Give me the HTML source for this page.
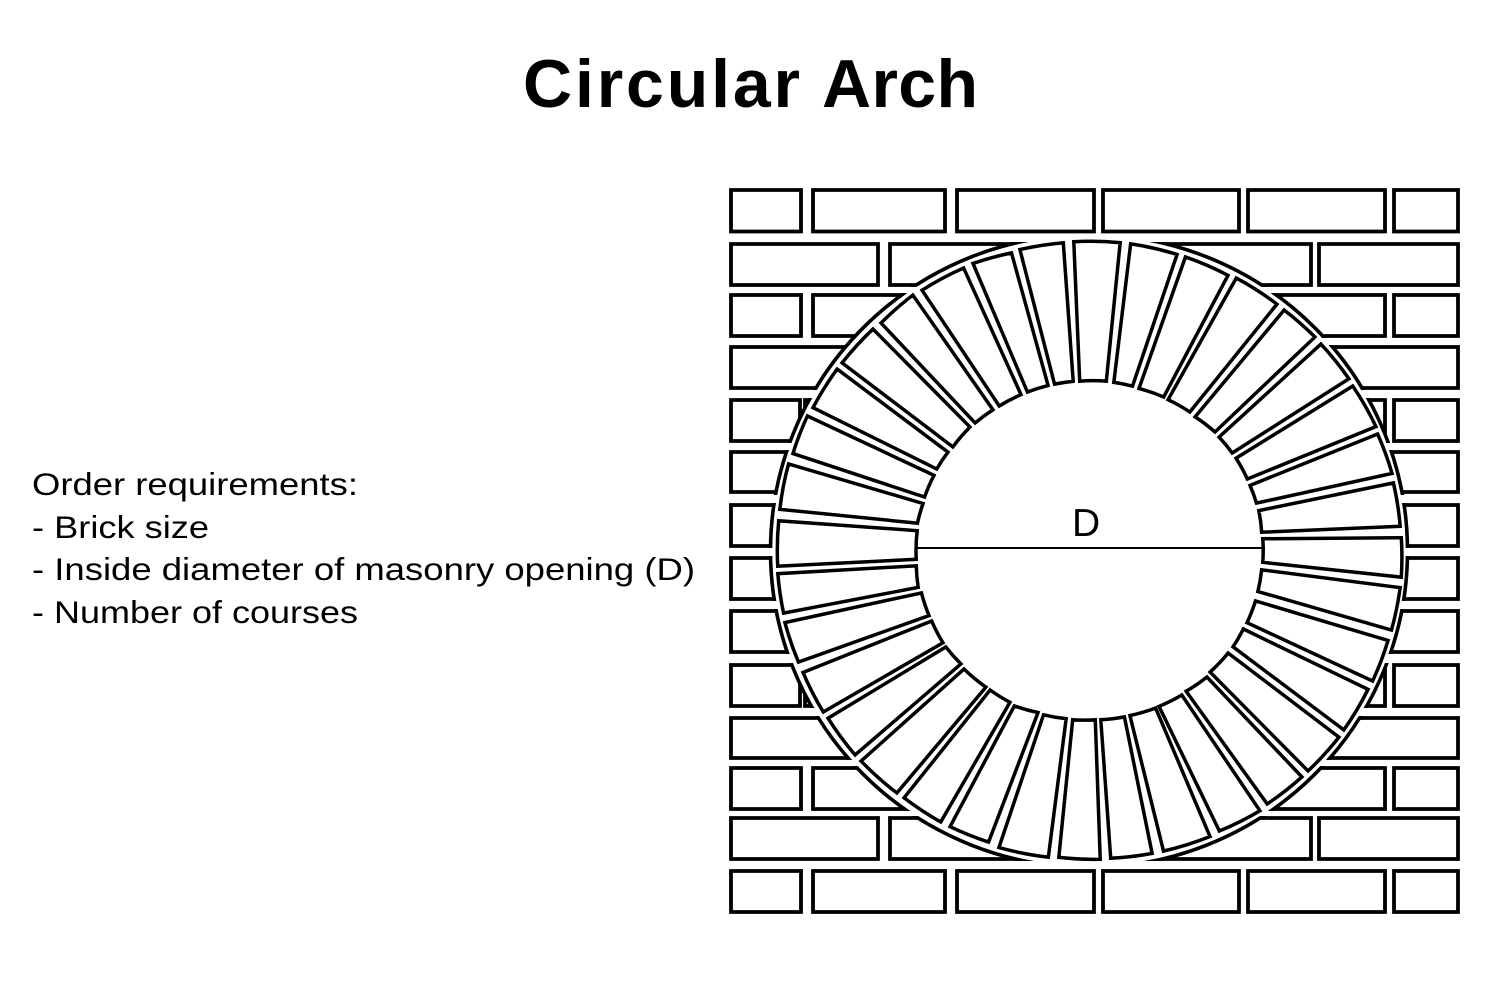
<!DOCTYPE html>
<html><head><meta charset="utf-8"><style>html,body{margin:0;padding:0;background:#fff}svg{display:block}text{font-family:"Liberation Sans",sans-serif;fill:#000}</style></head><body>
<svg xmlns="http://www.w3.org/2000/svg" width="1500" height="1001" viewBox="0 0 1500 1001">
<defs>
<clipPath id="b"><path d="M729 242H1460V287H729ZM729 287H900V293H729ZM729 293H1460V338H729ZM729 338H860V345H729ZM729 345H1460V390H729ZM729 398H1460V443H729ZM729 450H1460V495H729ZM729 503H1460V548H729ZM729 556H1460V601H729ZM729 609H1460V654H729ZM729 663H1460V708H729ZM729 716H1460V760H729ZM729 766H1460V811H729ZM729 816H1460V861H729Z"/></clipPath>
<path id="vp" d="M777 567L917 560A172 172 0 0 1 918 530L778 520A312 312 0 0 0 777 567Z
M779 510L918 524A172 172 0 0 1 924 503L788 463A312 312 0 0 0 779 510Z
M792 454L925 498A172 172 0 0 1 935 475L807 415A312 312 0 0 0 792 454Z
M812 408L937 470A172 172 0 0 1 949 452L837 368A312 312 0 0 0 812 408Z
M841 363L953 448A172 172 0 0 1 971 427L873 328A312 312 0 0 0 841 363Z
M880 323L975 424A172 172 0 0 1 994 410L913 294A312 312 0 0 0 880 323Z
M921 290L999 407A172 172 0 0 1 1022 395L964 267A312 312 0 0 0 921 290Z
M972 263L1027 393A172 172 0 0 1 1049 386L1012 252A312 312 0 0 0 972 263Z
M1019 249L1054 385A172 172 0 0 1 1074 382L1064 242A312 312 0 0 0 1019 249Z
M1073 241L1079 382A172 172 0 0 1 1107 382L1121 242A312 312 0 0 0 1073 241Z
M1130 243L1113 383A172 172 0 0 1 1133 387L1178 254A312 312 0 0 0 1130 243Z
M1185 256L1138 389A172 172 0 0 1 1164 398L1229 275A312 312 0 0 0 1185 256Z
M1236 277L1167 400A172 172 0 0 1 1190 413L1278 304A312 312 0 0 0 1236 277Z
M1284 309L1194 417A172 172 0 0 1 1215 433L1316 337A312 312 0 0 0 1284 309Z
M1321 343L1218 437A172 172 0 0 1 1232 454L1350 379A312 312 0 0 0 1321 343Z
M1353 385L1235 458A172 172 0 0 1 1247 480L1377 427A312 312 0 0 0 1353 385Z
M1378 433L1249 485A172 172 0 0 1 1256 504L1393 474A312 312 0 0 0 1378 433Z
M1394 482L1258 510A172 172 0 0 1 1261 533L1401 527A312 312 0 0 0 1394 482Z
M1402 537L1262 538A172 172 0 0 1 1262 563L1402 578A312 312 0 0 0 1402 537Z
M1401 587L1261 569A172 172 0 0 1 1257 592L1392 631A312 312 0 0 0 1401 587Z
M1389 640L1255 600A172 172 0 0 1 1246 623L1373 682A312 312 0 0 0 1389 640Z
M1369 689L1243 628A172 172 0 0 1 1232 647L1344 731A312 312 0 0 0 1369 689Z
M1340 737L1228 652A172 172 0 0 1 1209 672L1308 772A312 312 0 0 0 1340 737Z
M1303 777L1207 676A172 172 0 0 1 1185 691L1267 805A312 312 0 0 0 1303 777Z
M1261 811L1182 694A172 172 0 0 1 1158 706L1219 832A312 312 0 0 0 1261 811Z
M1211 837L1156 707A172 172 0 0 1 1129 715L1163 852A312 312 0 0 0 1211 837Z
M1153 854L1125 716A172 172 0 0 1 1100 719L1110 859A312 312 0 0 0 1153 854Z
M1101 860L1096 719A172 172 0 0 1 1072 719L1058 858A312 312 0 0 0 1101 860Z
M1049 858L1067 718A172 172 0 0 1 1043 714L998 848A312 312 0 0 0 1049 858Z
M989 843L1039 712A172 172 0 0 1 1014 705L949 827A312 312 0 0 0 989 843Z
M941 823L1011 702A172 172 0 0 1 990 689L903 798A312 312 0 0 0 941 823Z
M897 794L987 687A172 172 0 0 1 964 668L860 761A312 312 0 0 0 897 794Z
M855 756L962 664A172 172 0 0 1 946 646L827 718A312 312 0 0 0 855 756Z
M823 713L944 643A172 172 0 0 1 932 620L802 672A312 312 0 0 0 823 713Z
M798 663L930 616A172 172 0 0 1 922 592L784 622A312 312 0 0 0 798 663Z
M783 614L919 588A172 172 0 0 1 917 565L777 573A312 312 0 0 0 783 614Z"/>
<clipPath id="v"><use href="#vp"/></clipPath>
</defs>
<text x="523" y="107" font-size="68" font-weight="700" textLength="277" lengthAdjust="spacing">Circular</text>
<text x="822" y="107" font-size="68" font-weight="700" textLength="156" lengthAdjust="spacing">Arch</text>
<g font-size="31.5">
<text x="32" y="495" textLength="326" lengthAdjust="spacingAndGlyphs">Order requirements:</text>
<text x="32" y="538" textLength="177" lengthAdjust="spacingAndGlyphs">- Brick size</text>
<text x="32" y="580" textLength="663" lengthAdjust="spacingAndGlyphs">- Inside diameter of masonry opening (D)</text>
<text x="32" y="623" textLength="326" lengthAdjust="spacingAndGlyphs">- Number of courses</text>
</g>
<g fill="#fff" stroke="#000" stroke-width="3.8">
<path d="M731 190H801V231.5H731ZM813 190H945V231.5H813ZM957 190H1094V231.5H957ZM1103 190H1239V231.5H1103ZM1248 190H1385V231.5H1248ZM1394 190H1458V231.5H1394Z"/>
<path d="M731 244H878V285H731ZM890 244H1311V285H890ZM1319 244H1458V285H1319Z"/>
<path d="M731 295H801V336H731ZM813 295H1385V336H813ZM1394 295H1458V336H1394Z"/>
<path d="M731 347H1458V388H731Z"/>
<path d="M731 400H800V441H731ZM805 400H1385V441H805ZM1394 400H1458V441H1394Z"/>
<path d="M731 452H1000V492H731ZM1200 452H1458V492H1200Z"/>
<path d="M731 505H1000V546H731ZM1200 505H1458V546H1200Z"/>
<path d="M731 558H1000V599H731ZM1200 558H1458V599H1200Z"/>
<path d="M731 611H1000V652H731ZM1200 611H1458V652H1200Z"/>
<path d="M731 665H800V706H731ZM805 665H1385V706H805ZM1394 665H1458V706H1394Z"/>
<path d="M731 718H1458V758H731Z"/>
<path d="M731 768H801V809H731ZM813 768H1385V809H813ZM1394 768H1458V809H1394Z"/>
<path d="M731 818H878V859H731ZM890 818H1311V859H890ZM1319 818H1458V859H1319Z"/>
<path d="M731 871H801V912H731ZM813 871H945V912H813ZM957 871H1094V912H957ZM1103 871H1239V912H1103ZM1248 871H1385V912H1248ZM1394 871H1458V912H1394Z"/>
</g>
<ellipse cx="1089" cy="551" rx="318.5" ry="316.5" fill="#fff"/>
<ellipse cx="1089" cy="551" rx="318.5" ry="316.5" fill="none" stroke="#000" stroke-width="3.6" clip-path="url(#b)"/>
<use href="#vp" fill="#fff" stroke="#000" stroke-width="2"/>
<use href="#vp" fill="none" stroke="#000" stroke-width="5" clip-path="url(#v)"/>
<line x1="917" y1="548" x2="1265" y2="548" stroke="#000" stroke-width="2"/>
<text x="1072" y="536" font-size="39">D</text>
</svg>
</body></html>
